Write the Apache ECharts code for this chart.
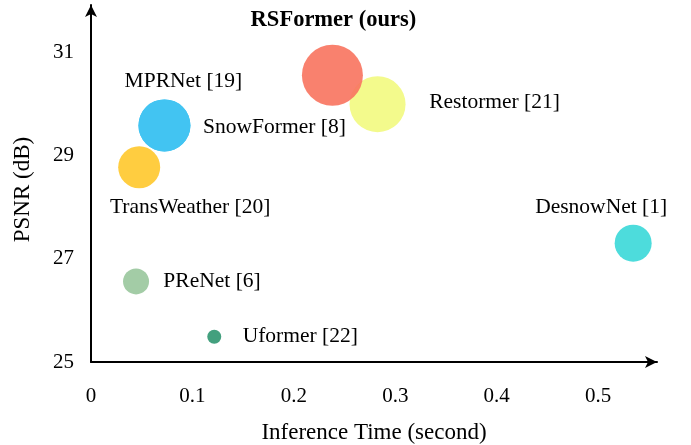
<!DOCTYPE html>
<html>
<head>
<meta charset="utf-8">
<script src="https://cdn.jsdelivr.net/npm/echarts@6/dist/echarts.min.js"></script>
<style>
  html, body { margin: 0; padding: 0; background: #fff; }
  #chart { width: 691px; height: 445px; }
</style>
</head>
<body>
<div id="chart"></div>
<script>
// methods drawn back to front (Restormer before RSFormer so the red one sits on top)
const methods = ['Restormer [21]', 'RSFormer (ours)', 'SnowFormer [8]', 'MPRNet [19]', 'TransWeather [20]', 'PReNet [6]', 'Uformer [22]', 'DesnowNet [1]']
const inferenceTime = [0.2825, 0.238, 0.0724, 0.0724, 0.0475, 0.0444, 0.1215, 0.5345]
const psnr = [29.99, 30.55, 29.58, 29.58, 28.77, 26.56, 25.49, 27.30]
const bubbleSize = [56, 61, 52, 52, 42, 26, 14, 37]

const colors = {
  'Restormer [21]': '#f3fa8c',
  'RSFormer (ours)': 'rgba(249,118,98,0.92)',
  'SnowFormer [8]': '#42c4f2',
  'MPRNet [19]': '#42c4f2',
  'TransWeather [20]': '#ffcd40',
  'PReNet [6]': '#a3cca6',
  'Uformer [22]': '#43a07e',
  'DesnowNet [1]': '#4ddcdc'
}

// label placement relative to bubble centre
const labelOffset = {
  'Restormer [21]': [117, -2],
  'RSFormer (ours)': [1, -55],
  'SnowFormer [8]': [110, 2],
  'MPRNet [19]': [19, -44],
  'TransWeather [20]': [51, 40],
  'PReNet [6]': [76, 0],
  'Uformer [22]': [86, 0],
  'DesnowNet [1]': [-32, -36]
}

const serif = 'Liberation Serif, Times New Roman, serif'

const chart = echarts.init(document.getElementById('chart'))

const data = methods.map((name, i) => ({
  name,
  value: [inferenceTime[i], psnr[i], bubbleSize[i]],
  itemStyle: { color: colors[name], opacity: 1 },
  label: {
    offset: labelOffset[name],
    fontWeight: name === 'RSFormer (ours)' ? 'bold' : 'normal',
    fontSize: name === 'RSFormer (ours)' ? 22.5 : 21.5
  }
}))

const axisLine = {
  show: true,
  symbol: ['none', 'arrow'],
  symbolSize: [9, 12],
  lineStyle: { color: '#000', width: 2 }
}

chart.setOption({
  animation: false,
  grid: { left: 91, right: 34, top: 5, bottom: 83, outerBoundsMode: 'none' },
  xAxis: {
    type: 'value',
    min: 0,
    max: 0.558,
    interval: 0.1,
    name: 'Inference Time (second)',
    nameLocation: 'middle',
    nameGap: 59,
    nameTextStyle: { fontFamily: serif, fontSize: 23, color: '#000' },
    axisLine,
    axisTick: { show: false },
    splitLine: { show: false },
    axisLabel: {
      fontFamily: serif, fontSize: 21, color: '#000', margin: 24,
      showMaxLabel: false
    }
  },
  yAxis: {
    type: 'value',
    min: 25,
    max: 31.91,
    interval: 2,
    name: 'PSNR (dB)',
    nameLocation: 'middle',
    nameGap: 57,
    nameTextStyle: { fontFamily: serif, fontSize: 23, color: '#000', padding: [0, 12, 0, 0] },
    axisLine,
    axisTick: { show: false },
    splitLine: { show: false },
    axisLabel: {
      fontFamily: serif, fontSize: 21, color: '#000', margin: 17,
      padding: [7, 0, 0, 0],
      showMaxLabel: false
    }
  },
  series: [{
    type: 'scatter',
    symbol: 'circle',
    symbolSize: (val) => val[2],
    data,
    label: {
      show: true,
      position: 'inside',
      formatter: '{b}',
      fontFamily: serif,
      color: '#000'
    }
  }]
})
</script>
</body>
</html>
